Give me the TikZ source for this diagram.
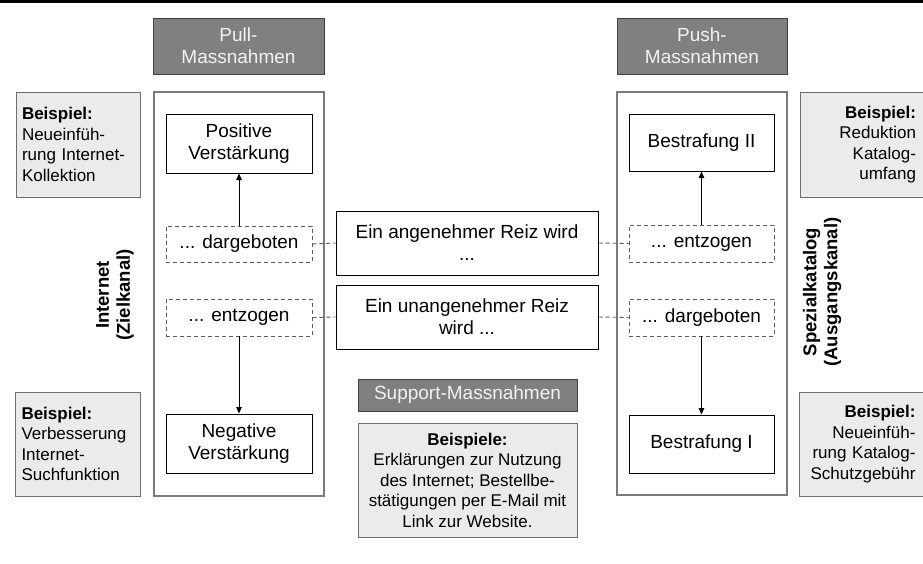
\documentclass[tikz,border=0pt]{standalone}
\usepackage{fontspec}
\setmainfont{Liberation Sans}
\usetikzlibrary{arrows.meta}
\definecolor{hdrfill}{HTML}{808080}
\definecolor{hdrline}{HTML}{404040}
\definecolor{exfill}{HTML}{EBEBEB}
\definecolor{exline}{HTML}{6E6E6E}
\definecolor{frameline}{HTML}{7A7A7A}
\definecolor{dashline}{HTML}{5A5A5A}
\tikzset{
  mainfont/.style={font=\fontsize{19}{22}\selectfont},
  hdrbox/.style={draw=hdrline, fill=hdrfill, line width=1pt, text=white!95!black, inner sep=0pt, align=center, mainfont},
  framebox/.style={draw=frameline, line width=1.2pt, inner sep=0pt},
  solidbox/.style={draw=black, line width=1pt, fill=white, inner sep=0pt, align=center, mainfont},
  dashbox/.style={draw=dashline, line width=0.9pt, dash pattern=on 4pt off 3pt, fill=white, inner sep=0pt, align=center, mainfont},
  exbox/.style={draw=exline, fill=exfill, line width=1pt, inner sep=0pt, font=\fontsize{17}{20.5}\selectfont},
  chanlabel/.style={rotate=90, align=center, font=\fontsize{18.5}{21}\selectfont\bfseries},
  arr/.style={draw=black, line width=0.9pt, -{Triangle[length=6.5pt,width=5.5pt]}},
  dconn/.style={draw=dashline, line width=0.9pt, dash pattern=on 4pt off 3pt}
}
\begin{document}
\begin{tikzpicture}[x=1pt,y=-1pt]
\useasboundingbox (0,0) rectangle (923,563);
\fill[white] (0,0) rectangle (923,563);
% top rule
\coordinate (ruleL) at (0,1.5);
\coordinate (ruleR) at (923,1.5);
\draw[line width=3pt] (ruleL) -- (ruleR);

% frames
\node[framebox, minimum width=170pt, minimum height=404pt] (lframe) at (239,294) {};
\node[framebox, minimum width=170pt, minimum height=403pt] (rframe) at (702,293.5) {};

% headers
\node[hdrbox, minimum width=171pt, minimum height=56pt] (pull) at (238.5,46) {Pull-\\Massnahmen};
\node[hdrbox, minimum width=170pt, minimum height=56pt] (push) at (702,46) {Push-\\Massnahmen};

% example boxes
\node[exbox, minimum width=124pt, minimum height=105pt, text width=112pt, align=left] (exlt) at (78,144.5)
  {\textbf{Beispiel:}\\Neueinfüh-\\rung Internet-\\Kollektion};
\node[exbox, minimum width=125pt, minimum height=104pt, text width=112pt, align=left] (exlb) at (77.5,444)
  {\textbf{Beispiel:}\\Verbesserung\\Internet-\\Suchfunktion};
\node[exbox, minimum width=126pt, minimum height=105pt, text width=106pt, align=right] (exrt) at (863,144.5)
  {\textbf{Beispiel:}\\Reduktion\\Katalog-\\umfang};
\node[exbox, minimum width=127pt, minimum height=104pt, text width=106pt, align=right] (exrb) at (862.5,444)
  {\textbf{Beispiel:}\\Neueinfüh-\\rung Katalog-\\Schutzgebühr};

% channel labels
\node[chanlabel] (lchan) at (115,295) {Internet\\(Zielkanal)};
\node[chanlabel] (rchan) at (822,292) {Spezialkatalog\\(Ausgangskanal)};

% left column
\node[solidbox, minimum width=146pt, minimum height=59pt] (posv) at (239,143.5) {Positive\\Verstärkung};
\node[dashbox, minimum width=146pt, minimum height=36pt] (ldarg) at (239,244) {... dargeboten};
\node[dashbox, minimum width=146pt, minimum height=37pt] (lentz) at (239,317.5) {... entzogen};
\node[solidbox, minimum width=146pt, minimum height=59pt] (negv) at (239,443.5) {Negative\\Verstärkung};

% right column
\node[solidbox, minimum width=145pt, minimum height=57pt] (bst2) at (701.5,142.5) {Bestrafung II};
\node[dashbox, minimum width=145pt, minimum height=37pt] (rentz) at (701.5,243.5) {... entzogen};
\node[dashbox, minimum width=145pt, minimum height=37pt] (rdarg) at (701.5,317.5) {... dargeboten};
\node[solidbox, minimum width=145pt, minimum height=58pt] (bst1) at (701.5,444) {Bestrafung I};

% centre
\node[solidbox, minimum width=262pt, minimum height=64pt] (angen) at (467,243) {Ein angenehmer Reiz wird\\...};
\node[solidbox, minimum width=262pt, minimum height=64pt] (unang) at (467,317) {Ein unangenehmer Reiz\\wird ...};
\node[hdrbox, minimum width=219pt, minimum height=32pt] (supp) at (467.5,395) {Support-Massnahmen};
\node[exbox, minimum width=219pt, minimum height=114pt, align=center] (suppex) at (467.5,480)
  {\textbf{Beispiele:}\\Erklärungen zur Nutzung\\des Internet; Bestellbe-\\stätigungen per E-Mail mit\\Link zur Website.};

% arrows
\draw[arr] (ldarg.north) -- (posv.south);
\draw[arr] (lentz.south) -- (negv.north);
\draw[arr] (rentz.north) -- (bst2.south);
\draw[arr] (rdarg.south) -- (bst1.north);

% dashed connectors
\draw[dconn] (ldarg.east) -- (angen.west);
\draw[dconn] (angen.east) -- (rentz.west);
\draw[dconn] (lentz.east) -- (unang.west);
\draw[dconn] (unang.east) -- (rdarg.west);
\end{tikzpicture}
\end{document}
